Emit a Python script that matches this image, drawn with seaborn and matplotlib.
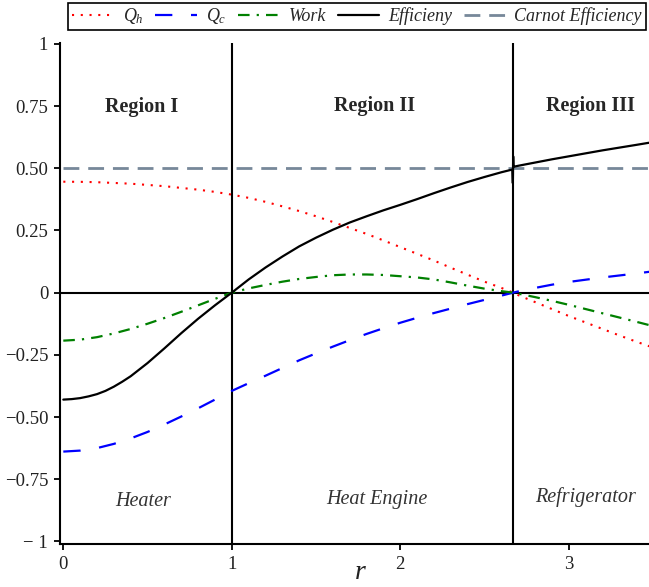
import matplotlib
matplotlib.use("Agg")
import matplotlib.pyplot as plt
import seaborn as sns
import pandas as pd

# Sampled values of the coupling parameter r
r = [0.0, 0.1, 0.2, 0.3, 0.4, 0.5, 0.6, 0.7, 0.8, 0.9, 1.0, 1.1, 1.2, 1.3, 1.4,
     1.5, 1.6, 1.7, 1.8, 1.9, 2.0, 2.1, 2.2, 2.3, 2.4, 2.5, 2.6, 2.67, 2.7, 2.8,
     2.9, 3.0, 3.1, 3.2, 3.3, 3.4, 3.48]

q_h = [0.446, 0.4455, 0.444, 0.441, 0.438, 0.433, 0.428, 0.421, 0.414, 0.405,
       0.394, 0.381, 0.365, 0.347, 0.328, 0.307, 0.284, 0.260, 0.236, 0.210,
       0.183, 0.156, 0.129, 0.100, 0.072, 0.044, 0.019, 0.0, -0.010, -0.038,
       -0.066, -0.094, -0.120, -0.146, -0.172, -0.197, -0.216]

q_c = [-0.639, -0.635, -0.625, -0.608, -0.586, -0.560, -0.530, -0.498, -0.465,
       -0.430, -0.395, -0.364, -0.334, -0.303, -0.272, -0.244, -0.217, -0.191,
       -0.166, -0.143, -0.121, -0.101, -0.082, -0.064, -0.046, -0.029, -0.012,
       0.0, 0.005, 0.019, 0.032, 0.043, 0.052, 0.061, 0.069, 0.077, 0.084]

work = [-0.193, -0.189, -0.179, -0.164, -0.146, -0.125, -0.102, -0.077, -0.051,
        -0.025, 0.0, 0.017, 0.031, 0.044, 0.055, 0.063, 0.070, 0.073, 0.073,
        0.071, 0.066, 0.061, 0.053, 0.041, 0.028, 0.016, 0.006, 0.0, -0.004,
        -0.018, -0.033, -0.049, -0.066, -0.083, -0.100, -0.117, -0.131]

# Efficiency, with the numerical spike at the engine/refrigerator boundary
r_eff = [0.0, 0.05, 0.1, 0.15, 0.2, 0.25, 0.3, 0.35, 0.4, 0.5, 0.6, 0.7, 0.8,
         0.9, 1.0, 1.1, 1.2, 1.3, 1.4, 1.5, 1.6, 1.7, 1.8, 1.9, 2.0, 2.1, 2.2,
         2.3, 2.4, 2.5, 2.6, 2.665, 2.668, 2.670, 2.672, 2.7, 2.8, 2.9, 3.0,
         3.1, 3.2, 3.3, 3.4, 3.48]
efficiency = [-0.430, -0.428, -0.424, -0.417, -0.408, -0.395, -0.378, -0.358,
              -0.336, -0.283, -0.224, -0.163, -0.105, -0.051, 0.0, 0.053, 0.101,
              0.145, 0.186, 0.221, 0.253, 0.282, 0.307, 0.331, 0.353, 0.376,
              0.400, 0.423, 0.445, 0.465, 0.484, 0.495, 0.440, 0.548, 0.506,
              0.510, 0.523, 0.536, 0.548, 0.560, 0.572, 0.583, 0.594, 0.603]

r_carnot = [0.0, 3.48]
carnot = [0.5, 0.5]

boundaries = [1.0, 2.67]

region_names = ["Region I", "Region II", "Region III"]
region_x = [0.464, 1.845, 3.128]
region_y = [0.727, 0.732, 0.732]
mode_names = ["Heater", "Heat Engine", "Refrigerator"]
mode_x = [0.474, 1.859, 3.10]
mode_y = [-0.858, -0.850, -0.842]

y_ticks = [-1, -0.75, -0.5, -0.25, 0, 0.25, 0.5, 0.75, 1]
y_tick_labels = ["\u2212 1", "\u22120.75", "\u22120.50", "\u22120.25", "0",
                 "0.25", "0.50", "0.75", "1"]
x_ticks = [0, 1, 2, 3]
x_tick_labels = ["0", "1", "2", "3"]

sns.set_theme(style="ticks")
plt.rcParams["font.family"] = ["Liberation Serif", "DejaVu Serif"]
plt.rcParams["mathtext.fontset"] = "custom"
plt.rcParams["mathtext.rm"] = "Liberation Serif"
plt.rcParams["mathtext.it"] = "Liberation Serif:italic"
plt.rcParams["mathtext.bf"] = "Liberation Serif:bold"

fig = plt.figure(figsize=(6.49, 5.87), dpi=100)
ax = fig.add_axes([60 / 649, 43 / 587, 589 / 649, 500.7 / 587])

df_main = pd.DataFrame({"r": r, "Qh": q_h, "Qc": q_c, "W": work})
df_eff = pd.DataFrame({"r": r_eff, "eta": efficiency})
df_carnot = pd.DataFrame({"r": r_carnot, "eta_c": carnot})

# frame lines: r = 1, r = 2.67 and the zero level
for b in boundaries:
    ax.axvline(b, color="black", lw=1.5, zorder=1)
ax.axhline(0, color="black", lw=1.5, zorder=1)

sns.lineplot(data=df_main, x="r", y="Qh", ax=ax, color="#ff0000", lw=1.5,
             linestyle=(0, (1, 3.2)), label=r"$Q_h$", legend=False,
             estimator=None, zorder=3)
sns.lineplot(data=df_main, x="r", y="Qc", ax=ax, color="#0000ff", lw=1.6,
             linestyle=(0, (7.8, 8.4)), label=r"$Q_c$", legend=False,
             estimator=None, zorder=3)
sns.lineplot(data=df_main, x="r", y="W", ax=ax, color="#008000", lw=1.6,
             linestyle=(0, (5.2, 3.2, 1.0, 3.2)), label="Work", legend=False,
             estimator=None, zorder=3)
sns.lineplot(data=df_eff, x="r", y="eta", ax=ax, color="black", lw=1.6,
             label="Efficieny", legend=False, estimator=None, sort=False,
             zorder=4)
sns.lineplot(data=df_carnot, x="r", y="eta_c", ax=ax, color="#778899", lw=2.0,
             linestyle=(0, (5.7, 3.2)), label="Carnot Efficiency",
             legend=False, estimator=None, zorder=2)

for name, x, y in zip(region_names, region_x, region_y):
    ax.text(x, y, name, ha="center", va="baseline", fontsize=14.5,
            fontweight="bold", color="#262626")
for name, x, y in zip(mode_names, mode_x, mode_y):
    ax.text(x, y, name, ha="center", va="baseline", fontsize=14.5,
            fontstyle="italic", color="#333333")

ax.set_xlim(-0.0196, 3.476)
ax.set_ylim(-1.0105, 1.0024)
ax.set_xticks(x_ticks)
ax.set_xticklabels(x_tick_labels)
ax.set_yticks(y_ticks)
ax.set_yticklabels(y_tick_labels)
ax.tick_params(axis="both", direction="out", length=4.5, width=1.3,
               color="black", labelsize=13.5, labelcolor="#222222", pad=4)
ax.set_xlabel("")
ax.set_ylabel("")
fig.text(360 / 649, 2 / 587, "r", fontsize=20, fontstyle="italic",
         color="#222222", ha="center", va="bottom")

for side in ["top", "right"]:
    ax.spines[side].set_visible(False)
for side in ["left", "bottom"]:
    ax.spines[side].set_color("black")
    ax.spines[side].set_linewidth(1.5)

handles, labels = ax.get_legend_handles_labels()
leg = fig.legend(handles, labels, loc="upper center", ncol=5,
                 bbox_to_anchor=(357 / 649, 1 - 2.5 / 587), frameon=True,
                 fancybox=False, framealpha=1, edgecolor="black",
                 prop={"family": "Liberation Serif", "style": "italic",
                       "size": 13},
                 handlelength=2.3, handletextpad=0.5, columnspacing=0.65,
                 borderpad=0.2, borderaxespad=0.0)
leg.get_frame().set_linewidth(1.2)

fig.savefig("out.png", dpi=100)
